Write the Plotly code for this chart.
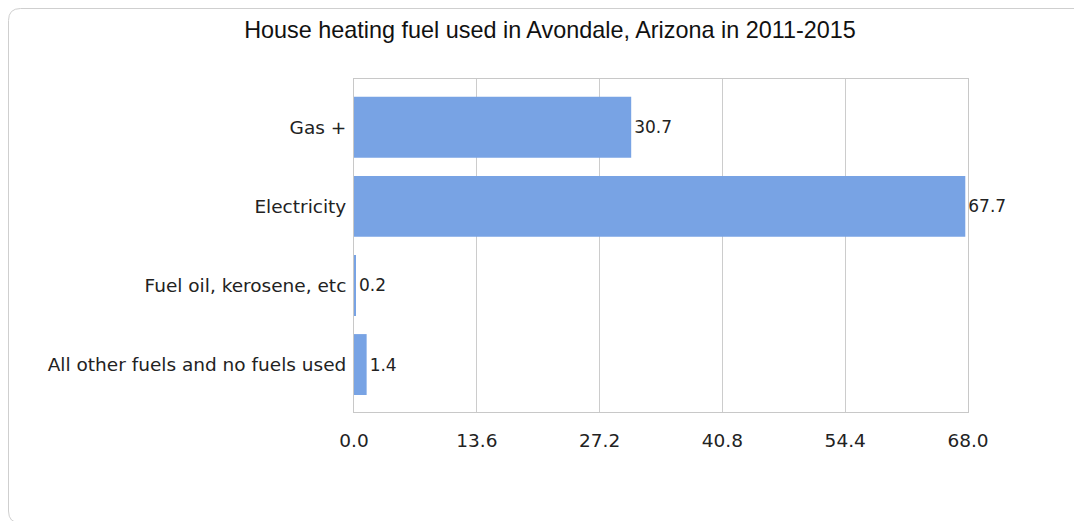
import plotly.graph_objects as go

categories = ["Gas +", "Electricity", "Fuel oil, kerosene, etc", "All other fuels and no fuels used"]
values = [30.7, 67.7, 0.2, 1.4]
value_labels = ["30.7", "67.7", "0.2", "1.4"]
x_ticks = [0.0, 13.6, 27.2, 40.8, 54.4, 68.0]
x_tick_labels = ["0.0", "13.6", "27.2", "40.8", "54.4", "68.0"]
title_text = "House heating fuel used in Avondale, Arizona in 2011-2015"

# page has an 8px body margin, so figure coords = page coords - 8
W, H = 1082, 521
L, R, T, B = 346, 122, 71, 117
PW, PH = W - L - R, H - T - B


def px(x):
    return (x - L) / PW


def py(y):
    return (H - B - y) / PH


fig = go.Figure(
    go.Bar(
        y=categories,
        x=values,
        orientation="h",
        marker=dict(color="#78a3e4", line=dict(width=0)),
        text=value_labels,
        textposition="outside",
        textfont=dict(family="DejaVu Sans", size=17, color="#222222"),
        cliponaxis=False,
        width=0.77,
        hoverinfo="skip",
    )
)

# card border (rounded left corners, cropped at right and bottom)
r = 12
x0, y0, y1 = 0.5, 0.5, 515
path = (
    f"M {px(1100)},{py(y0)} L {px(x0 + r)},{py(y0)} "
    f"Q {px(x0)},{py(y0)} {px(x0)},{py(y0 + r)} "
    f"L {px(x0)},{py(y1 - r)} "
    f"Q {px(x0)},{py(y1)} {px(x0 + r)},{py(y1)} "
    f"L {px(1100)},{py(y1)}"
)

fig.update_layout(
    width=W,
    height=H,
    margin=dict(l=L, r=R, t=T, b=B, autoexpand=False),
    paper_bgcolor="white",
    plot_bgcolor="white",
    showlegend=False,
    title=dict(
        text=title_text,
        x=542 / W,
        xanchor="center",
        xref="container",
        y=1 - 22 / H,
        yanchor="middle",
        yref="container",
        font=dict(family="Liberation Sans, Arial", size=23.4, color="#111111"),
    ),
    xaxis=dict(
        range=[0, 68],
        tickvals=x_ticks,
        ticktext=x_tick_labels,
        showgrid=True,
        gridcolor="#cccccc",
        gridwidth=1,
        zeroline=False,
        showline=True,
        linecolor="#c8c8c8",
        linewidth=1,
        mirror=True,
        ticks="outside",
        ticklen=12,
        tickcolor="rgba(0,0,0,0)",
        tickfont=dict(family="DejaVu Sans", size=18.5, color="#222222"),
        fixedrange=True,
    ),
    yaxis=dict(
        type="category",
        categoryorder="array",
        categoryarray=categories,
        range=[3.6, -0.61],
        showgrid=False,
        zeroline=False,
        showline=True,
        linecolor="#c8c8c8",
        linewidth=1,
        mirror=True,
        ticks="outside",
        ticklen=3,
        tickcolor="rgba(0,0,0,0)",
        tickfont=dict(family="DejaVu Sans", size=18.5, color="#222222"),
        fixedrange=True,
    ),
    shapes=[
        dict(
            type="path",
            xref="paper",
            yref="paper",
            path=path,
            line=dict(color="#cfcfcf", width=1),
            layer="below",
        )
    ],
)

fig.write_html("out.html", config={"displayModeBar": False})
